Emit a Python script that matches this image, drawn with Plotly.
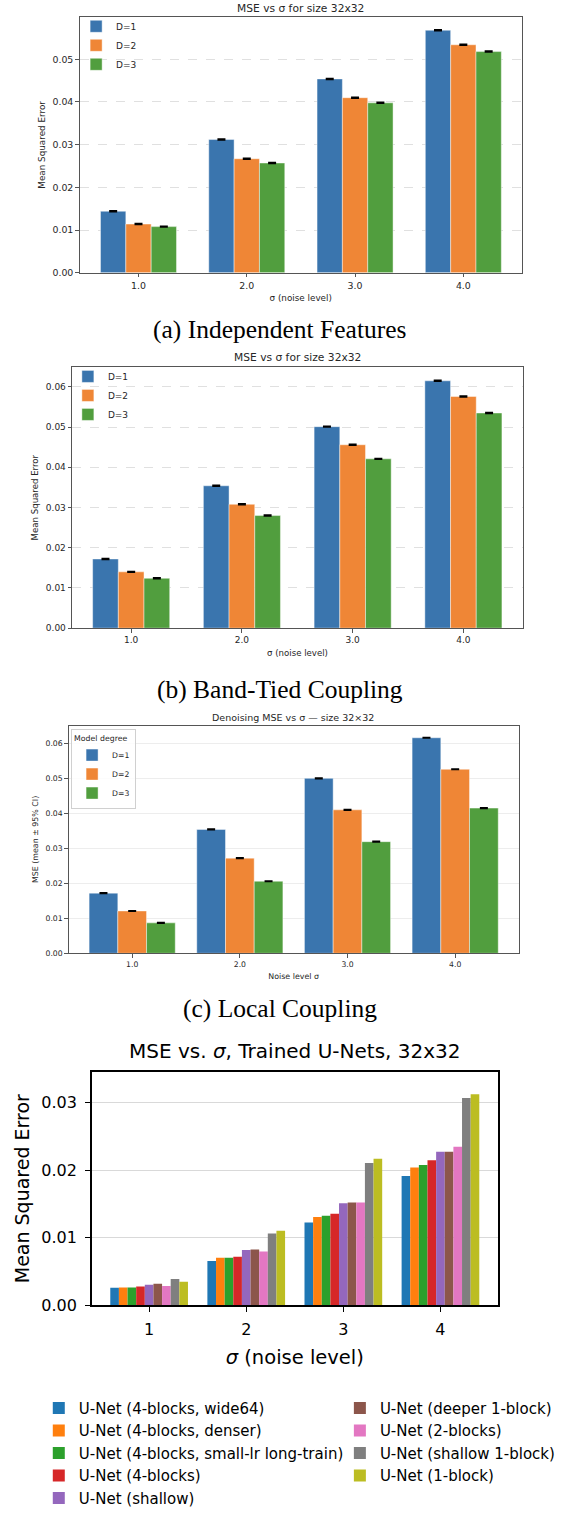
import plotly.graph_objects as go

W, H = 561, 1515

# ---------------- data ----------------
sigma = [1.0, 2.0, 3.0, 4.0]
sigma_labels_dec = ["1.0", "2.0", "3.0", "4.0"]
sigma_labels_int = ["1", "2", "3", "4"]
degree_names = ["D=1", "D=2", "D=3"]

# (a) Independent Features
a_d1 = [0.0144, 0.0312, 0.0454, 0.0568]
a_d2 = [0.0114, 0.0267, 0.0410, 0.0534]
a_d3 = [0.0108, 0.0257, 0.0398, 0.0518]
a_err = [0.0001, 0.0001, 0.0001, 0.0001]

# (b) Band-Tied Coupling
b_d1 = [0.0172, 0.0354, 0.0501, 0.0615]
b_d2 = [0.0140, 0.0308, 0.0456, 0.0576]
b_d3 = [0.0124, 0.0280, 0.0421, 0.0535]
b_err = [0.0001, 0.0001, 0.0001, 0.0001]

# (c) Local Coupling
c_d1 = [0.0172, 0.0354, 0.0500, 0.0616]
c_d2 = [0.0121, 0.0272, 0.0410, 0.0526]
c_d3 = [0.0087, 0.0206, 0.0319, 0.0415]
c_err = [0.00008, 0.00008, 0.00008, 0.00008]

# (d) Trained U-Nets
unet_names = [
    "U-Net (4-blocks, wide64)",
    "U-Net (4-blocks, denser)",
    "U-Net (4-blocks, small-lr long-train)",
    "U-Net (4-blocks)",
    "U-Net (shallow)",
    "U-Net (deeper 1-block)",
    "U-Net (2-blocks)",
    "U-Net (shallow 1-block)",
    "U-Net (1-block)",
]
mse_wide64 = [0.00257, 0.00655, 0.01223, 0.01913]
mse_denser = [0.00260, 0.00700, 0.01306, 0.02040]
mse_smalllr = [0.00260, 0.00700, 0.01325, 0.02078]
mse_4blocks = [0.00277, 0.00718, 0.01354, 0.02146]
mse_shallow = [0.00300, 0.00816, 0.01510, 0.02272]
mse_deeper1 = [0.00316, 0.00825, 0.01519, 0.02272]
mse_2blocks = [0.00282, 0.00796, 0.01519, 0.02345]
mse_shallow1 = [0.00388, 0.01063, 0.02107, 0.03068]
mse_1block = [0.00345, 0.01102, 0.02170, 0.03126]
unet_series = [mse_wide64, mse_denser, mse_smalllr, mse_4blocks, mse_shallow,
               mse_deeper1, mse_2blocks, mse_shallow1, mse_1block]

# ---------------- style ----------------
deg_colors = ["#3a75ae", "#ef8636", "#519e3e"]
unet_colors = ["#1f77b4", "#ff7f0e", "#2ca02c", "#d62728", "#9467bd",
               "#8c564b", "#e377c2", "#7f7f7f", "#bcbd22"]
SANS = "DejaVu Sans"
SERIF = "Liberation Serif"
TXT = "#262626"


def px_x(x):
    return x / W


def px_y(y):
    return 1 - y / H


fig = go.Figure()

panels = [
    ("a", [a_d1, a_d2, a_d3], a_err, "", "legend", 0.234),
    ("b", [b_d1, b_d2, b_d3], b_err, "2", "legend2", 0.232),
    ("c", [c_d1, c_d2, c_d3], c_err, "3", "legend3", 0.8 / 3),
]
for name, series, err, sfx, leg, bw in panels:
    for i, vals in enumerate(series):
        fig.add_trace(go.Bar(
            x=sigma, y=vals, width=bw, offset=-1.5 * bw + i * bw,
            name=degree_names[i], legend=leg,
            marker=dict(color=deg_colors[i], line=dict(color="rgba(255,255,255,0.55)", width=0.8)),
            error_y=dict(type="data", array=err, color="black", thickness=1.6, width=4),
            xaxis="x" + sfx, yaxis="y" + sfx,
        ))

bw_d = 0.8 / 9
for i, vals in enumerate(unet_series):
    fig.add_trace(go.Bar(
        x=sigma, y=vals, width=bw_d, offset=-0.4 + i * bw_d,
        name=unet_names[i], legend="legend4" if i < 5 else "legend5",
        marker=dict(color=unet_colors[i], line=dict(width=0)),
        xaxis="x4", yaxis="y4",
    ))


# ---------------- axes ----------------
def small_axes(xdom, ydom, yrng, xr, sfx, tickfs, labfs, xlabel, ylabel, griddash, xstand, ystand):
    xa = dict(domain=xdom, range=xr, tickvals=sigma, ticktext=sigma_labels_dec,
              showline=True, mirror=True, linecolor="#555555", linewidth=1,
              ticks="outside", ticklen=3.5, tickwidth=0.8, tickcolor="#555555",
              showgrid=False, zeroline=False,
              tickfont=dict(family=SANS, size=tickfs, color=TXT),
              title=dict(text=xlabel, font=dict(family=SANS, size=labfs, color=TXT), standoff=xstand),
              anchor="y" + sfx)
    ya = dict(domain=ydom, range=yrng, dtick=0.01, tick0=0, tickformat=".2f",
              showline=True, mirror=True, linecolor="#555555", linewidth=1,
              ticks="outside", ticklen=3.5, tickwidth=0.8, tickcolor="#555555",
              showgrid=True, gridcolor="rgba(0,0,0,0.12)", gridwidth=0.8, griddash=griddash,
              zeroline=False,
              tickfont=dict(family=SANS, size=tickfs, color=TXT),
              title=dict(text=ylabel, font=dict(family=SANS, size=labfs, color=TXT), standoff=ystand),
              anchor="x" + sfx)
    return xa, ya


xa, ya = small_axes([px_x(82.2), px_x(538.1)], [px_y(277.3), px_y(17.3)], [0, 0.0599],
                    [0.457, 4.54], "", 9.4, 8.8, "σ (noise level)", "Mean Squared Error", "dash", 5, 5)
xb, yb = small_axes([px_x(74.4), px_x(539.2)], [px_y(638.7), px_y(373.3)], [0, 0.0649],
                    [0.467, 4.537], "2", 9.0, 8.6, "σ (noise level)", "Mean Squared Error", "dash", 5, 5)
xc, yc = small_axes([px_x(70.8), px_x(534.9)], [px_y(969.3), px_y(737.7)], [0, 0.0651],
                    [0.41, 4.59], "3", 7.7, 7.9, "Noise level σ", "MSE (mean ± 95% CI)", "solid", 5, 5)
yc["gridcolor"] = "rgba(0,0,0,0.07)"

xd = dict(domain=[px_x(94.7), px_x(513.3)], range=[0.41, 4.59], tickvals=sigma, ticktext=sigma_labels_int,
          showline=True, mirror=True, linecolor="black", linewidth=1.6,
          ticks="outside", ticklen=5, tickwidth=1.2, tickcolor="black",
          showgrid=False, zeroline=False, ticklabelstandoff=4,
          tickfont=dict(family=SANS, size=16, color="black"),
          title=dict(text="<i>σ</i> (noise level)", font=dict(family=SANS, size=19.5, color="black"), standoff=12),
          anchor="y4")
yd = dict(domain=[px_y(1327.0), px_y(1090.3)], range=[0, 0.0345], dtick=0.01, tick0=0, tickformat=".2f",
          showline=True, mirror=True, linecolor="black", linewidth=1.6,
          ticks="outside", ticklen=5, tickwidth=1.2, tickcolor="black",
          showgrid=True, gridcolor="#d9d9d9", gridwidth=1, zeroline=False,
          ticklabelstandoff=5,
          tickfont=dict(family=SANS, size=16, color="black"),
          title=dict(text="Mean Squared Error", font=dict(family=SANS, size=19, color="black"), standoff=7),
          anchor="x4")


# ---------------- legends ----------------
def leg(x, y, fs, **kw):
    d = dict(x=px_x(x), y=px_y(y), xanchor="left", yanchor="top", xref="paper", yref="paper",
             font=dict(family=SANS, size=fs, color=TXT), bgcolor="rgba(255,255,255,0)",
             borderwidth=0, orientation="v", traceorder="normal")
    d.update(kw)
    return d


fig.update_layout(
    width=W, height=H,
    margin=dict(l=0, r=0, t=0, b=0),
    paper_bgcolor="white", plot_bgcolor="white",
    barmode="overlay",
    xaxis=xa, yaxis=ya, xaxis2=xb, yaxis2=yb, xaxis3=xc, yaxis3=yc, xaxis4=xd, yaxis4=yd,
    legend=leg(78.5, 12, 9),
    legend2=leg(70, 368, 9),
    legend3=leg(73.3, 741.7, 7.7, bgcolor="rgba(255,255,255,0.8)", bordercolor="#d0d0d0", borderwidth=1,
                title=dict(text="Model degree", font=dict(family=SANS, size=7.8, color=TXT))),
    legend4=leg(40, 1415, 15, font=dict(family=SANS, size=15, color="black")),
    legend5=leg(350.5, 1415, 15, font=dict(family=SANS, size=15, color="black")),
    showlegend=True,
)

# ---------------- titles & captions ----------------
annots = [
    ("MSE vs σ for size 32x32", 310.3, 8.3, SANS, 10.7, TXT),
    ("MSE vs σ for size 32x32", 307.0, 363.5, SANS, 10.7, TXT),
    ("Denoising MSE vs σ — size 32×32", 302.5, 729.3, SANS, 9.5, TXT),
    ("MSE vs. <i>σ</i>, Trained U-Nets, 32x32", 304.6, 1069.0, SANS, 20, "black"),
    ("(a) Independent Features", 288.0, 335.0, SERIF, 25.5, "black"),
    ("(b) Band-Tied Coupling", 289.0, 700.7, SERIF, 25.5, "black"),
    ("(c) Local Coupling", 288.7, 1025.0, SERIF, 25.5, "black"),
]
for text, x, y, fam, fs, col in annots:
    fig.add_annotation(text=text, x=px_x(x), y=px_y(y), xref="paper", yref="paper",
                       xanchor="center", yanchor="middle", showarrow=False,
                       font=dict(family=fam, size=fs, color=col))

fig.write_html("out.html", config={"displayModeBar": False},
               post_script="document.body.style.margin='0';")
